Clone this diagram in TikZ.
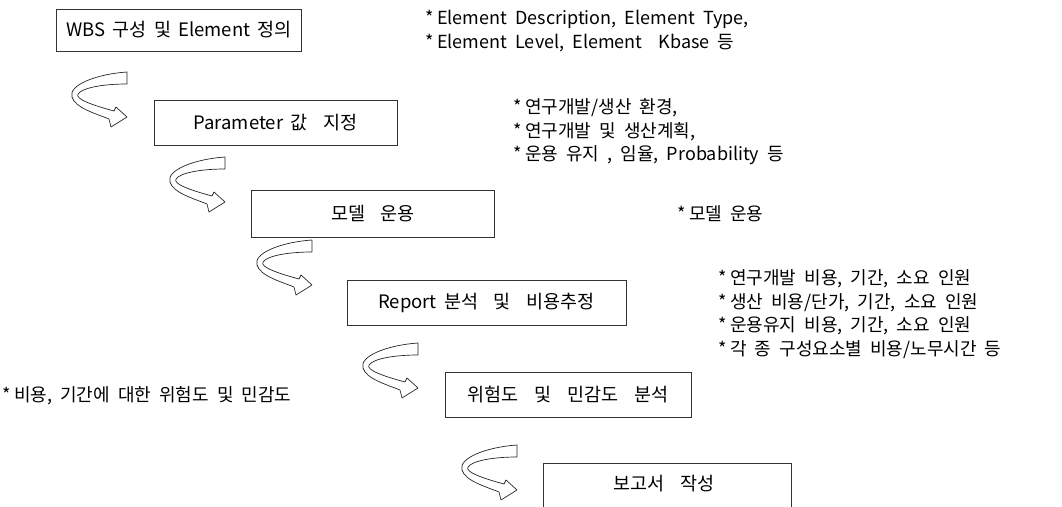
\documentclass[tikz,border=0pt]{standalone}
\usepackage{fontspec}
\setmainfont{Noto Sans CJK KR}
\newcommand{\gapsp}{\hspace{0.85em}}
\newcommand{\st}{*\hspace{0.2em}}
\newcommand{\boxfnt}{\fontsize{18.5}{22}\selectfont\spaceskip=0.4em\relax}
\newcommand{\notefnt}{\fontsize{18}{23.5}\selectfont\spaceskip=0.45em\relax}
\begin{document}
\begin{tikzpicture}[x=1pt,y=-1pt,
  box/.style={draw=black!80, line width=0.8pt, rectangle, inner sep=0pt, font=\boxfnt},
  boxtext/.style={inner sep=0pt, font=\boxfnt},
  note/.style={anchor=west, align=left, inner sep=0pt, font=\notefnt},
  curlarrow/.pic={\draw[black!85, line width=0.7pt, fill=white, line join=round]
     (55,0) .. controls (25,2) and (-4,13) .. (0,25)
     .. controls (3,36) and (25,42) .. (37,47) -- (39,55) -- (55,45) -- (44,35) -- (42,39)
     .. controls (20,33) and (3,27) .. (6,22)
     .. controls (10,16) and (30,12) .. (55,12) -- cycle;}
]
\useasboundingbox (0,0) rectangle (1062,506);
\clip (0,0) rectangle (1062,506);
% boxes
\node[box, minimum width=245pt, minimum height=42pt] (b1) at (179,30) {WBS 구성 및 Element 정의};
\node[box, minimum width=243pt, minimum height=45pt] (b2) at (275.5,122.5) {Parameter 값\gapsp 지정};
\node[box, minimum width=243pt, minimum height=47pt] (b3) at (373,213.5) {모델\gapsp 운용};
\node[box, minimum width=279pt, minimum height=45pt] (b4) at (486.5,303) {Report 분석\gapsp 및\gapsp 비용추정};
\node[box, minimum width=246pt, minimum height=45pt] (b5) at (568,394.5) {위험도\gapsp 및\gapsp 민감도\gapsp 분석};
\node[box, minimum width=248pt, minimum height=70pt] (b6) at (667,498) {};
\node[boxtext] (t6) at (664,484) {보고서\hspace{0.9em}작성};
% curved arrows
\pic at (72,72) {curlarrow};
\pic at (170,157) {curlarrow};
\pic at (257,240) {curlarrow};
\pic at (363,343) {curlarrow};
\pic at (462,445) {curlarrow};
% notes
\node[note] (n1) at (425,31) {\st Element Description, Element Type,\\\st Element Level, Element\hspace{0.9em}Kbase 등};
\node[note] (n2) at (513,132) {\st 연구개발/생산 환경,\\\st 연구개발 및 생산계획,\\\st 운용 유지 , 임율, Probability 등};
\node[note] (n3) at (677,214) {\st 모델 운용};
\node[note] (n4) at (718,314) {\st 연구개발 비용, 기간, 소요 인원\\\st 생산 비용/단가, 기간, 소요 인원\\\st 운용유지 비용, 기간, 소요 인원\\\st 각 종 구성요소별 비용/노무시간 등};
\node[note] (n5) at (2,396) {\st 비용, 기간에 대한 위험도 및 민감도};
\end{tikzpicture}
\end{document}
